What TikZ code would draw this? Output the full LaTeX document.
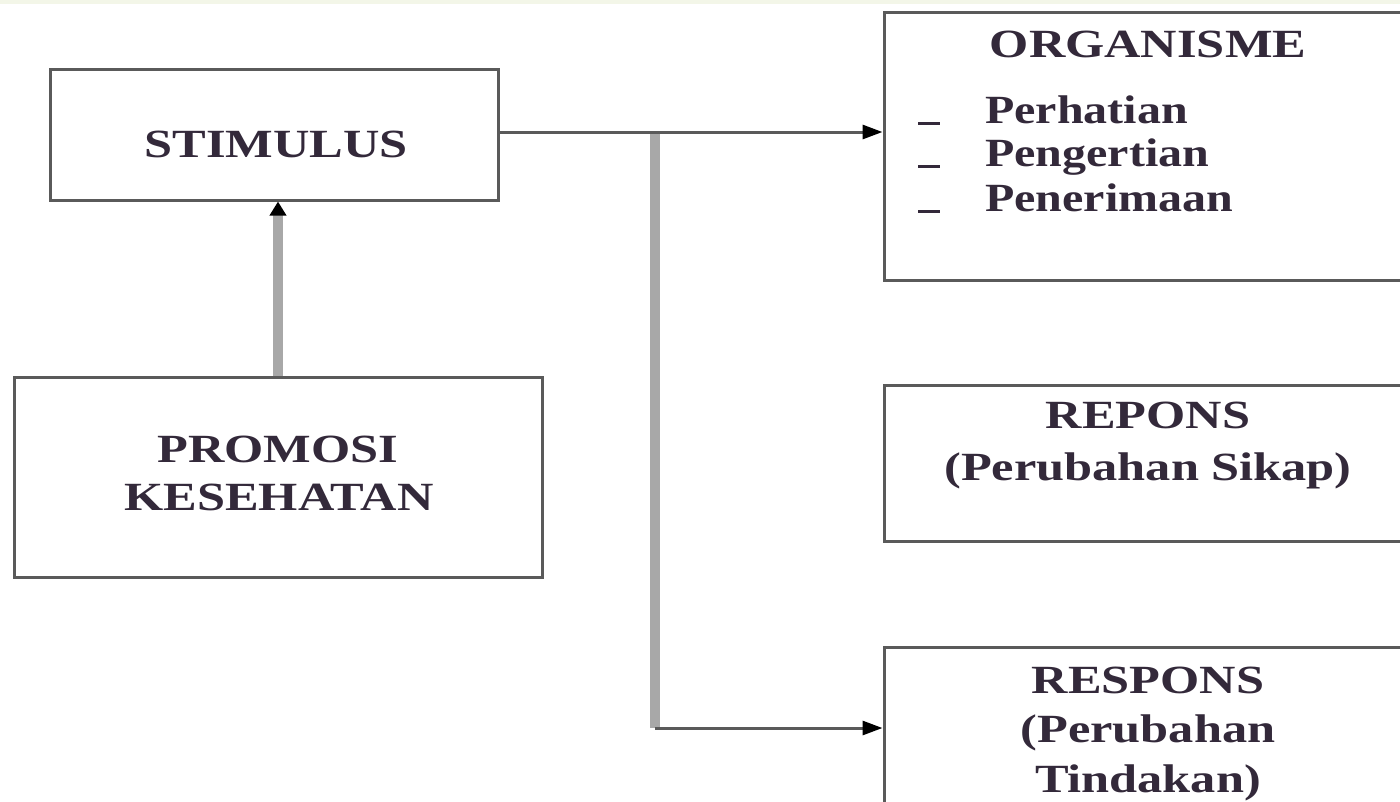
\documentclass[tikz,border=0pt]{standalone}
\usepackage{fontspec}
\setmainfont{Liberation Serif}
\usetikzlibrary{arrows.meta}
\definecolor{txtc}{HTML}{33293A}
\definecolor{edge}{HTML}{5A5A5A}
\definecolor{gbar}{HTML}{A8A8A8}
\definecolor{strip}{HTML}{F3F6E8}
\newcommand\wide[1]{\scalebox{1.26}[1]{#1}}
\begin{document}
\begin{tikzpicture}[x=1pt,y=-1pt,
  box/.style={draw=edge, line width=3pt, fill=white, inner sep=0pt},
  lbl/.style={text=txtc, font=\bfseries\fontsize{40}{48}\selectfont, inner sep=0pt},
  link/.style={draw=edge, line width=3pt, -{Triangle[length=20pt,width=14pt,color=black]}},
  bar/.style={draw=gbar, line width=10pt}]
\useasboundingbox (0,0) rectangle (1400,801);
\clip (0,0) rectangle (1400,801);
\fill[white] (0,0) rectangle (1400,801);
\fill[strip] (0,0) rectangle (1400,4);
% boxes
\node[box, minimum width=448pt, minimum height=131pt] (stim) at (274,134.5) {};
\node[box, minimum width=528pt, minimum height=200pt] (prom) at (278,477) {};
\node[box, minimum width=536pt, minimum height=268pt] (org) at (1152,146) {};
\node[box, minimum width=536pt, minimum height=156pt] (rep) at (1152,463) {};
\node[box, minimum width=536pt, minimum height=183pt] (res) at (1152,738.5) {};
% texts
\node[lbl, anchor=base] (tstim) at (276,157) {\wide{STIMULUS}};
\node[lbl, anchor=base] (tprom1) at (278,462) {\wide{PROMOSI}};
\node[lbl, anchor=base] (tprom2) at (279,510) {\wide{KESEHATAN}};
\node[lbl, anchor=base] (torg) at (1148,57) {\wide{ORGANISME}};
\node[lbl, anchor=base west] (d1) at (918,123) {\rule[-2pt]{22pt}{3pt}};
\node[lbl, anchor=base west] (d2) at (918,166) {\rule[-2pt]{22pt}{3pt}};
\node[lbl, anchor=base west] (d3) at (918,211) {\rule[-2pt]{22pt}{3pt}};
\node[lbl, anchor=base west] (l1) at (985,123) {\scalebox{1.2}[1]{Perhatian}};
\node[lbl, anchor=base west] (l2) at (985,166) {\scalebox{1.2}[1]{Pengertian}};
\node[lbl, anchor=base west] (l3) at (985,211) {\scalebox{1.2}[1]{Penerimaan}};
\node[lbl, anchor=base] (trep1) at (1148,428) {\wide{REPONS}};
\node[lbl, anchor=base] (trep2) at (1148,480) {\wide{(Perubahan Sikap)}};
\node[lbl, anchor=base] (tres1) at (1148,693) {\wide{RESPONS}};
\node[lbl, anchor=base] (tres2) at (1148,742) {\wide{(Perubahan}};
\node[lbl, anchor=base] (tres3) at (1148,792) {\wide{Tindakan)}};
% connectors
\coordinate (sx) at ([yshift=2.5pt]stim.east);
\coordinate (br) at (655,0);
\coordinate (bc) at (655,728);
\draw[bar] (br |- sx) -- (bc);
\draw[link] (sx) -- (sx -| org.west);
\draw[link] (bc) -- (bc -| res.west);
\draw[bar, -{Triangle[length=14pt,width=16pt,color=black]}] (prom.north) -- (prom.north |- stim.south);
\end{tikzpicture}
\end{document}
